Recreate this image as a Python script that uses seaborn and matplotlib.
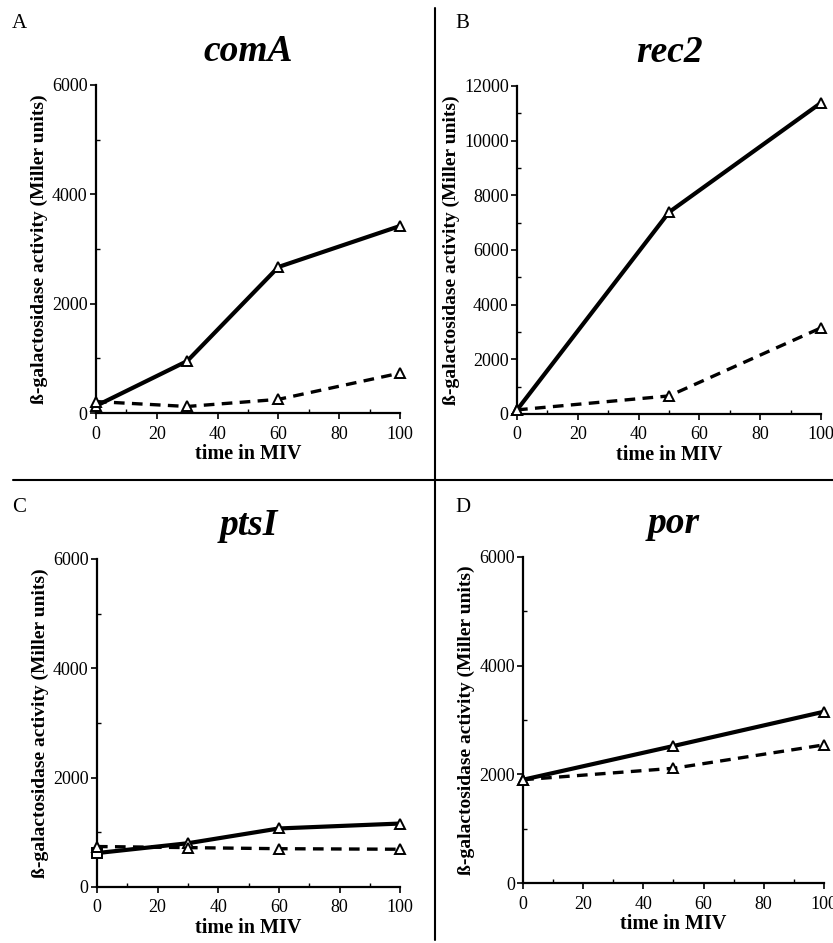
import numpy as np
import pandas as pd
import seaborn as sns
import matplotlib.pyplot as plt
from matplotlib.lines import Line2D
from matplotlib.ticker import MultipleLocator

sns.set_style("ticks")
plt.rcParams['font.family'] = ['Liberation Serif', 'DejaVu Serif']
plt.rcParams['text.color'] = 'black'
plt.rcParams['axes.labelcolor'] = 'black'
plt.rcParams['axes.edgecolor'] = 'black'
plt.rcParams['xtick.color'] = 'black'
plt.rcParams['ytick.color'] = 'black'

# data
genes = ['comA', 'rec2', 'ptsI', 'por']
letters = ['A', 'B', 'C', 'D']

comA_t = [0, 30, 60, 100]
comA_solid = [130, 950, 2670, 3420]
comA_dash = [210, 120, 250, 730]

rec2_t = [0, 50, 100]
rec2_solid = [150, 7380, 11380]
rec2_dash = [150, 660, 3150]

ptsI_t = [0, 30, 60, 100]
ptsI_solid = [620, 800, 1070, 1160]
ptsI_dash = [740, 720, 700, 690]
ptsI_solid_marks = ['s', '^', '^', '^']

por_t = [0, 50, 100]
por_solid = [1900, 2520, 3150]
por_dash = [1900, 2110, 2540]

ymax = [6000, 12000, 6000, 6000]

panels = [
    (comA_t, comA_solid, comA_dash, None),
    (rec2_t, rec2_solid, rec2_dash, None),
    (ptsI_t, ptsI_solid, ptsI_dash, ptsI_solid_marks),
    (por_t, por_solid, por_dash, None),
]

# axes boxes in figure fractions [left, bottom, width, height]
boxes = [
    [0.1152, 0.562, 0.365, 0.348],
    [0.6207, 0.561, 0.365, 0.348],
    [0.1164, 0.0594, 0.364, 0.348],
    [0.628, 0.0636, 0.361, 0.346],
]

fig = plt.figure(figsize=(8.33, 9.43), dpi=100)

for i, (t, solid, dash, smarks) in enumerate(panels):
    ax = fig.add_axes(boxes[i])
    df = pd.DataFrame({'t': t, 'solid': solid, 'dash': dash})
    sns.lineplot(data=df, x='t', y='solid', ax=ax, color='black', lw=3.0)
    sns.lineplot(data=df, x='t', y='dash', ax=ax, color='black', lw=2.4,
                 linestyle=(0, (3.2, 2.2)))
    if smarks is None:
        smarks = ['^'] * len(t)
    for xv, yv, m in zip(t, solid, smarks):
        ax.plot(xv, yv, marker=m, ms=7.5, mfc='white', mec='black', mew=1.4,
                clip_on=False, zorder=5)
    for xv, yv in zip(t, dash):
        ax.plot(xv, yv, marker='^', ms=7.5, mfc='white', mec='black', mew=1.4,
                clip_on=False, zorder=5)

    ax.set_xlim(0, 100)
    ax.set_ylim(0, ymax[i])
    ax.xaxis.set_major_locator(MultipleLocator(20))
    ax.xaxis.set_minor_locator(MultipleLocator(10))
    ax.yaxis.set_major_locator(MultipleLocator(2000))
    ax.yaxis.set_minor_locator(MultipleLocator(1000))
    ax.tick_params(which='major', direction='out', length=4, width=1.2,
                   labelsize=13, pad=2)
    ax.tick_params(axis='x', which='major', pad=5)
    ax.tick_params(which='minor', direction='in', length=3, width=1)
    sns.despine(ax=ax)
    for s in ['left', 'bottom']:
        ax.spines[s].set_linewidth(1.6)
    ax.set_xlabel('time in MIV', fontsize=14.5, fontweight='bold', labelpad=1)
    ax.set_ylabel('ß-galactosidase activity (Miller units)', fontsize=14,
                  fontweight='bold', labelpad=3)
    ax.set_title(genes[i], fontsize=27, fontstyle='italic', fontweight='bold',
                 pad=17)

# panel letters
fig.text(0.014, 0.975, 'A', fontsize=15, va='center')
fig.text(0.547, 0.975, 'B', fontsize=15, va='center')
fig.text(0.014, 0.462, 'C', fontsize=15, va='center')
fig.text(0.547, 0.462, 'D', fontsize=15, va='center')

# dividing lines
fig.add_artist(Line2D([435 / 833, 435 / 833], [1 - 8 / 943, 1 - 940 / 943],
                      color='black', lw=1.5))
fig.add_artist(Line2D([13 / 833, 1.0], [1 - 480 / 943, 1 - 480 / 943],
                      color='black', lw=1.5))

fig.savefig('out.png', dpi=100)
